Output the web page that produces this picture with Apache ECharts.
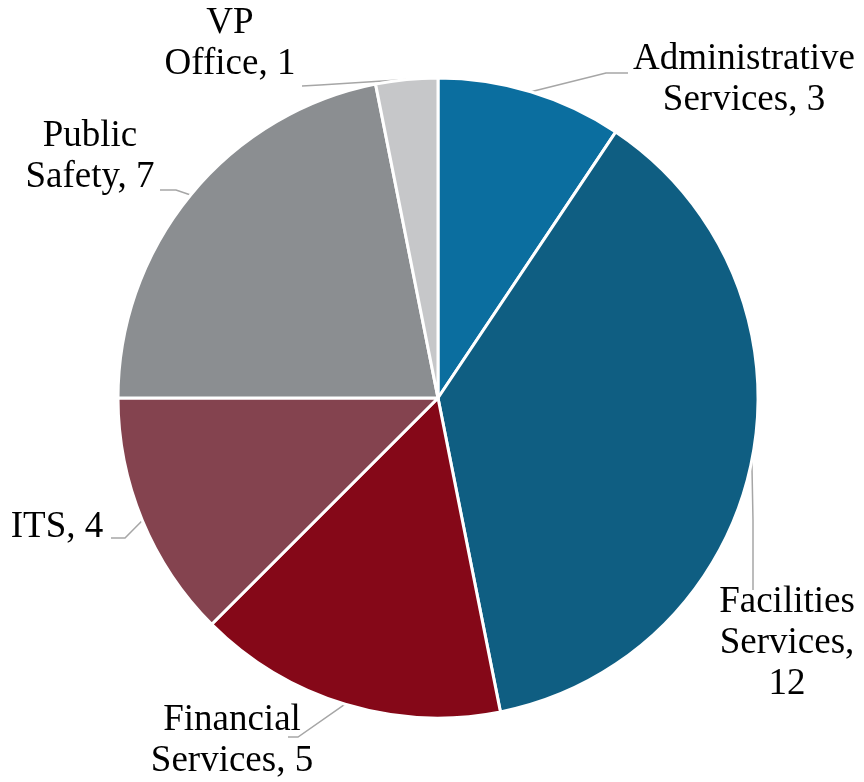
<!DOCTYPE html>
<html>
<head>
<meta charset="utf-8">
<script src="https://cdn.jsdelivr.net/npm/echarts@6/dist/echarts.min.js"></script>
<style>
  html, body { margin: 0; padding: 0; background: #ffffff; }
  #chart { width: 864px; height: 782px; }
</style>
</head>
<body>
<div id="chart"></div>
<script>
// data
const categories = ['Administrative\nServices', 'Facilities\nServices,', 'Financial\nServices', 'ITS', 'Public\nSafety', 'VP\nOffice'];
const values = [3, 12, 5, 4, 7, 1];
const colors = ['#0b6e9f', '#0f5e82', '#850818', '#84434f', '#8b8e91', '#c6c7c9'];

// label placement: text center, elbow point, line end
const labelSpots = [
  { x: 744, y: 80, elbow: [606, 73], end: [628, 73] },
  { x: 787, y: 643, elbow: [753, 520], end: [753, 590] },
  { x: 232, y: 741, elbow: [298, 737], end: [288, 737] },
  { x: 57, y: 527, elbow: [125, 538], end: [111, 538] },
  { x: 90, y: 157, elbow: [176, 190], end: [160, 190] },
  { x: 230, y: 44, elbow: [320, 85], end: [302, 86] }
];

const chart = echarts.init(document.getElementById('chart'));

const option = {
  animation: false,
  series: [
    {
      type: 'pie',
      center: [438, 398],
      radius: 320,
      startAngle: 90,
      clockwise: true,
      itemStyle: {
        borderColor: '#ffffff',
        borderWidth: 3
      },
      label: {
        show: true,
        position: 'outside',
        fontFamily: 'Liberation Serif',
        fontSize: 37,
        lineHeight: 41,
        color: '#000000',
        align: 'center',
        overflow: 'none',
        formatter: (p) => {
          // Facilities puts the value on its own line
          if (p.dataIndex === 1) return p.name + '\n' + p.value;
          return p.name + ', ' + p.value;
        }
      },
      labelLine: {
        show: true,
        lineStyle: { color: '#a6a6a6', width: 1.5 }
      },
      labelLayout: (params) => {
        const s = labelSpots[params.dataIndex];
        const start = params.labelLinePoints ? params.labelLinePoints[0] : s.elbow;
        return {
          x: s.x,
          y: s.y,
          width: 260,
          align: 'center',
          verticalAlign: 'middle',
          labelLinePoints: [start, s.elbow, s.end]
        };
      },
      data: categories.map((name, i) => ({
        name: name,
        value: values[i],
        itemStyle: { color: colors[i] }
      }))
    }
  ]
};

chart.setOption(option);
</script>
</body>
</html>
